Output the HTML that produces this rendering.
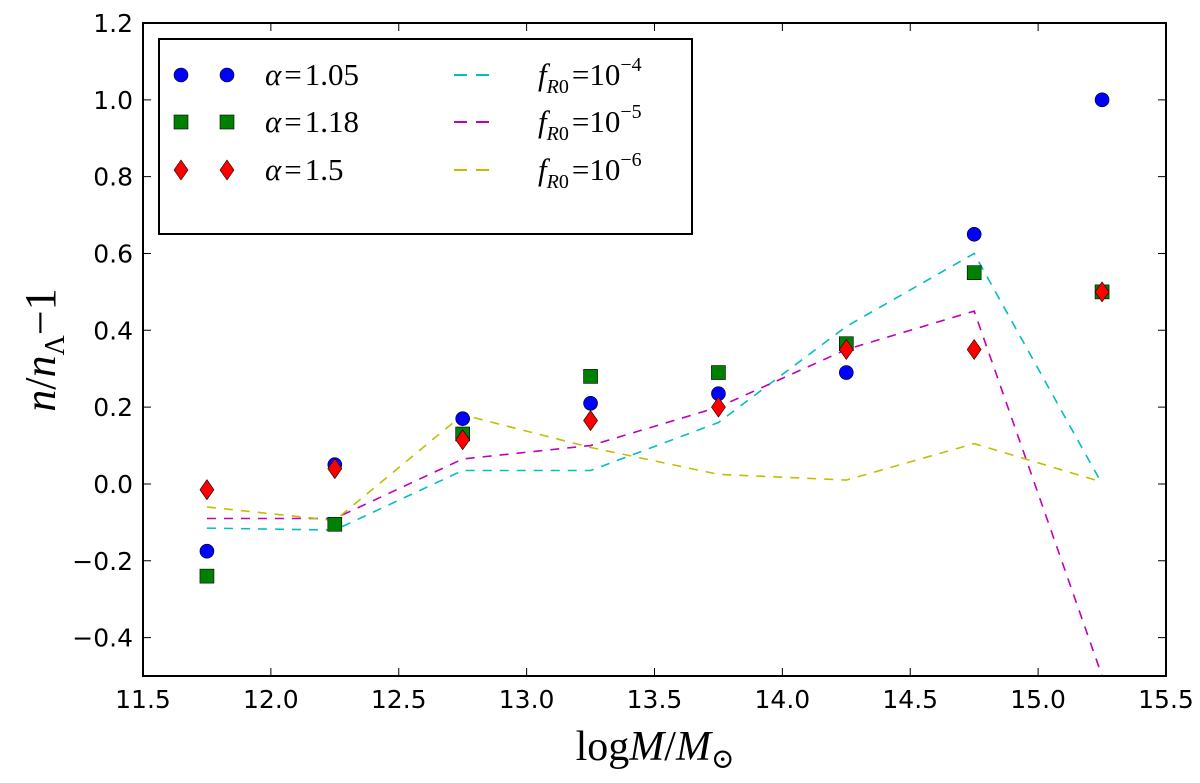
<!DOCTYPE html>
<html><head><meta charset="utf-8"><style>
html,body{margin:0;padding:0;background:#fff;}
svg text{font-family:"DejaVu Sans","Liberation Sans",sans-serif;}
.m{font-family:"Liberation Serif","DejaVu Serif",serif;}
</style></head><body>
<svg id="c" width="1200" height="778" xmlns="http://www.w3.org/2000/svg"></svg>
<script>
const xCats=[11.75,12.25,12.75,13.25,13.75,14.25,14.75,15.25];
const alpha105=[-0.175,0.05,0.17,0.21,0.235,0.29,0.65,1.0];
const alpha118=[-0.24,-0.105,0.13,0.28,0.29,0.365,0.55,0.5];
const alpha150=[-0.015,0.04,0.115,0.165,0.2,0.35,0.35,0.5];
const fR4=[-0.115,-0.12,0.035,0.035,0.16,0.41,0.6,0.0];
const fR5=[-0.09,-0.09,0.065,0.10,0.2,0.35,0.45,-0.5];
const fR6=[-0.06,-0.095,0.18,0.095,0.025,0.01,0.105,0.005];
const xTicks=[11.5,12.0,12.5,13.0,13.5,14.0,14.5,15.0,15.5];
const yTicks=[-0.4,-0.2,0.0,0.2,0.4,0.6,0.8,1.0,1.2];

const L=143,R=1166,T=23,B=676;
const sx=v=>L+(v-11.5)/4*(R-L);
const sy=v=>B-(v+0.5)/1.7*(B-T);
const svg=document.getElementById('c');
const NS='http://www.w3.org/2000/svg';
function mk(tag,attrs,parent){const e=document.createElementNS(NS,tag);for(const k in attrs)e.setAttribute(k,attrs[k]);(parent||svg).appendChild(e);return e;}

const defs=mk('defs',{});
const cp=mk('clipPath',{id:'pc'},defs);
mk('rect',{x:L,y:T,width:R-L,height:B-T},cp);

xTicks.forEach(t=>{
  const x=sx(t);
  const tk=mk('path',{d:`M${x} ${B}v-8M${x} ${T}v8`,stroke:'#000','stroke-width':1,fill:'none'});
  
  
  const lb=mk('text',{x:x,y:B+32,'text-anchor':'middle','font-size':25});
  lb.textContent=t.toFixed(1);
  
  
});
yTicks.forEach(t=>{
  const y=sy(t);
  const tk=mk('path',{d:`M${L} ${y}h8M${R} ${y}h-8`,stroke:'#000','stroke-width':1,fill:'none'});
  
  
  const lb=mk('text',{x:L-10,y:y+9,'text-anchor':'end','font-size':25});
  lb.textContent=(t<0?'\u2212':'')+Math.abs(t).toFixed(1);
  
  
});

const g=mk('g',{'clip-path':'url(#pc)'});
[[fR4,'#00bfbf','line-fr0-1e-4'],[fR5,'#bf00bf','line-fr0-1e-5'],[fR6,'#bfbf00','line-fr0-1e-6']].forEach(([d,c,n])=>{
  const p=mk('polyline',{points:d.map((v,i)=>sx(xCats[i])+','+sy(v)).join(' '),fill:'none',stroke:c,'stroke-width':1.6,'stroke-dasharray':'9,8'},g);
  
  
});
function marker(type,x,y,parent){
  if(type==='o') return mk('circle',{cx:x,cy:y,r:7,fill:'#0000ff',stroke:'#000','stroke-width':0.6},parent);
  if(type==='s') return mk('rect',{x:x-7,y:y-7,width:14,height:14,fill:'#008000',stroke:'#000','stroke-width':0.6},parent);
  return mk('path',{d:`M${x} ${y-10}L${x+7} ${y}L${x} ${y+10}L${x-7} ${y}Z`,fill:'#ff0000',stroke:'#000','stroke-width':0.6},parent);
}
[[alpha105,'o','point-alpha-1.05'],[alpha118,'s','point-alpha-1.18'],[alpha150,'d','point-alpha-1.5']].forEach(([d,t,n])=>{
  d.forEach((v,i)=>{
    const m=marker(t,sx(xCats[i]),sy(v),g);
    
    
  });
});
mk('rect',{x:L,y:T,width:R-L,height:B-T,fill:'none',stroke:'#000','stroke-width':2});

const lg=mk('g',{});


mk('rect',{x:159,y:39,width:533,height:195,fill:'#fff',stroke:'#000','stroke-width':2},lg);
const rows=[75,122,170];
const labs=['1.05','1.18','1.5'];
['o','s','d'].forEach((t,i)=>{
  marker(t,181,rows[i],lg);marker(t,227,rows[i],lg);
  const tx=mk('text',{x:265,y:rows[i]+10,'font-size':31,class:'m'},lg);
  tx.innerHTML='<tspan font-style="italic">α</tspan><tspan dx="3">=</tspan><tspan dx="3">'+labs[i]+'</tspan>';
  
  
});
const fc=['#00bfbf','#bf00bf','#bfbf00'];const ex=['4','5','6'];
fc.forEach((c,i)=>{
  mk('line',{x1:454,x2:496,y1:rows[i],y2:rows[i],stroke:c,'stroke-width':2,'stroke-dasharray':'13,9'},lg);
  const tx=mk('text',{x:538,y:rows[i]+10,'font-size':31,class:'m'},lg);
  tx.innerHTML='<tspan font-style="italic">f</tspan><tspan font-style="italic" font-size="20" dy="8">R</tspan><tspan font-size="20">0</tspan><tspan dy="-8" dx="3">=10</tspan><tspan font-size="20" dy="-14">−'+ex[i]+'</tspan>';
  
  
});

const xt=mk('text',{x:655,y:760,'text-anchor':'middle','font-size':42,class:'m'});
xt.innerHTML='log<tspan font-style="italic">M</tspan>/<tspan font-style="italic">M</tspan><tspan font-size="28" dy="8">⊙</tspan>';


const yt=mk('text',{x:0,y:0,'text-anchor':'middle','font-size':44,class:'m',transform:'translate(55,350) rotate(-90)'});
yt.innerHTML='<tspan font-style="italic">n</tspan>/<tspan font-style="italic">n</tspan><tspan font-size="28" dy="9">Λ</tspan><tspan dy="-9">−1</tspan>';


</script>
</body></html>
